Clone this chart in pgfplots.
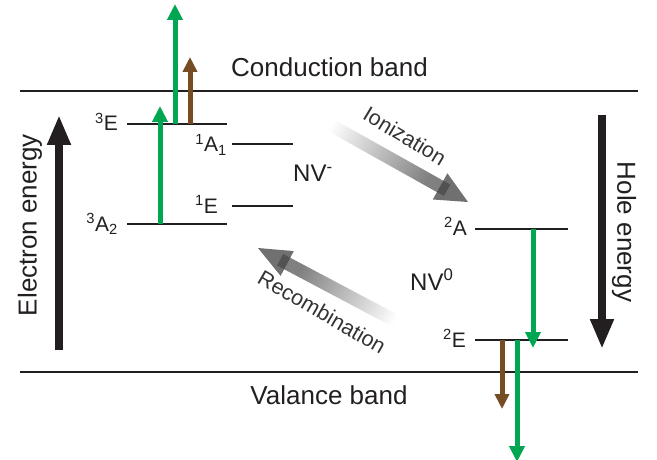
\documentclass[border=0pt]{standalone}
\usepackage{pgfplots}
\pgfplotsset{compat=1.18}
\usepackage{fontspec}
\setmainfont{Liberation Sans}
\usetikzlibrary{arrows.meta}
\definecolor{nvgreen}{HTML}{00A651}
\definecolor{nvbrown}{HTML}{754C24}
\definecolor{nvblack}{HTML}{231F20}
\begin{document}
\begin{tikzpicture}
\begin{axis}[
  width=657pt, height=460pt, scale only axis,
  xmin=0, xmax=657, ymin=0, ymax=460, y dir=reverse,
  hide axis, clip=false, no markers,
]
\addplot[draw=none] coordinates {(0,0) (657,460)};
% bands
\addplot[nvblack, line width=1.6pt] coordinates {(20,91) (638,91)};
\addplot[nvblack, line width=1.6pt] coordinates {(20,372) (638,372)};
% NV- levels
\addplot[nvblack, line width=1.3pt] coordinates {(127,124) (227,124)};
\addplot[nvblack, line width=1.3pt] coordinates {(127,224) (227,224)};
\addplot[nvblack, line width=1.3pt] coordinates {(232,144) (293,144)};
\addplot[nvblack, line width=1.3pt] coordinates {(232,206) (293,206)};
% NV0 levels
\addplot[nvblack, line width=1.3pt] coordinates {(475,229) (568,229)};
\addplot[nvblack, line width=1.3pt] coordinates {(475,340) (568,340)};
% energy arrows
\addplot[nvblack, line width=8pt, -{Triangle[width=22pt,length=30pt]}] coordinates {(59,350) (59,115)};
\addplot[nvblack, line width=8pt, -{Triangle[width=22pt,length=30pt]}] coordinates {(602,115) (602,349)};
% transitions
\addplot[nvgreen, line width=5pt, -{Triangle[width=15pt,length=16pt]}] coordinates {(160,224) (160,106)};
\addplot[nvgreen, line width=5pt, -{Triangle[width=15pt,length=16pt]}] coordinates {(175,124) (175,4)};
\addplot[nvbrown, line width=5pt, -{Triangle[width=14pt,length=15pt]}] coordinates {(190,124) (190,57)};
\addplot[nvgreen, line width=5pt, -{Triangle[width=15pt,length=16pt]}] coordinates {(533,229) (533,348)};
\addplot[nvbrown, line width=5pt, -{Triangle[width=14pt,length=15pt]}] coordinates {(502,340) (502,409)};
\addplot[nvgreen, line width=5pt, -{Triangle[width=15pt,length=16pt]}] coordinates {(517,340) (517,462)};
% ionization arrow
\addplot[draw=none, left color=white, right color=black!50, shading angle=61]
  coordinates {(314.8,123.7) (321.2,112.3) (443.3,180.7) (436.9,192.1) (314.8,123.7)};
\addplot[draw=none, fill=black!56]
  coordinates {(443.3,180.7) (447.4,173.3) (468,202) (432.8,199.5) (436.9,192.1) (443.3,180.7)};
\addplot[draw=none, fill=black!68]
  coordinates {(443.3,180.7) (450.3,184.6) (443.9,196.0) (436.9,192.1) (443.3,180.7)};
% recombination arrow
\addplot[draw=none, left color=white, right color=black!50, shading angle=242]
  coordinates {(410.05,321.25) (290.25,257.75) (284.15,269.25) (403.95,332.75) (410.05,321.25)};
\addplot[draw=none, fill=black!56]
  coordinates {(290.25,257.75) (293.8,251.1) (258,248) (280.6,275.9) (284.15,269.25) (290.25,257.75)};
\addplot[draw=none, fill=black!68]
  coordinates {(290.25,257.75) (284.15,269.25) (277.1,265.45) (283.2,253.95) (290.25,257.75)};
% texts
\node[font=\fontsize{26}{30}\selectfont, text=nvblack, anchor=base, inner sep=0pt] at (axis cs:329.5,77) {Conduction band};
\node[font=\fontsize{26}{30}\selectfont, text=nvblack, anchor=base, inner sep=0pt] at (axis cs:329,404) {Valance band};
\node[font=\fontsize{26}{30}\selectfont, text=nvblack, rotate=90, inner sep=0pt] at (axis cs:30,225) {Electron energy};
\node[font=\fontsize{26}{30}\selectfont, text=nvblack, rotate=-90, inner sep=0pt] at (axis cs:624,232) {Hole energy};
\node[font=\fontsize{24}{28}\selectfont, text=nvblack, anchor=base west, inner sep=0pt] at (axis cs:293,182) {NV\textsuperscript{-}};
\node[font=\fontsize{24}{28}\selectfont, text=nvblack, anchor=base west, inner sep=0pt] at (axis cs:410,290) {NV\textsuperscript{0}};
\node[font=\fontsize{21}{24}\selectfont, text=nvblack, anchor=base east, inner sep=0pt] at (axis cs:118,131) {\textsuperscript{3}E};
\node[font=\fontsize{21}{24}\selectfont, text=nvblack, anchor=base east, inner sep=0pt] at (axis cs:118,231) {\textsuperscript{3}A\textsubscript{2}};
\node[font=\fontsize{21}{24}\selectfont, text=nvblack, anchor=base east, inner sep=0pt] at (axis cs:227,152) {\textsuperscript{1}A\textsubscript{1}};
\node[font=\fontsize{21}{24}\selectfont, text=nvblack, anchor=base east, inner sep=0pt] at (axis cs:218,213) {\textsuperscript{1}E};
\node[font=\fontsize{21}{24}\selectfont, text=nvblack, anchor=base east, inner sep=0pt] at (axis cs:467,235) {\textsuperscript{2}A};
\node[font=\fontsize{21}{24}\selectfont, text=nvblack, anchor=base east, inner sep=0pt] at (axis cs:466,347) {\textsuperscript{2}E};
\node[font=\fontsize{21.5}{24}\selectfont, text=black!80, rotate=-31, inner sep=0pt] at (axis cs:405,136) {Ionization};
\node[font=\fontsize{21.5}{24}\selectfont, text=black!80, rotate=-30, inner sep=0pt] at (axis cs:322,312) {Recombination};
\end{axis}
\pgfresetboundingbox
\path (current axis.south west) rectangle (current axis.north east);
\end{tikzpicture}
\end{document}
